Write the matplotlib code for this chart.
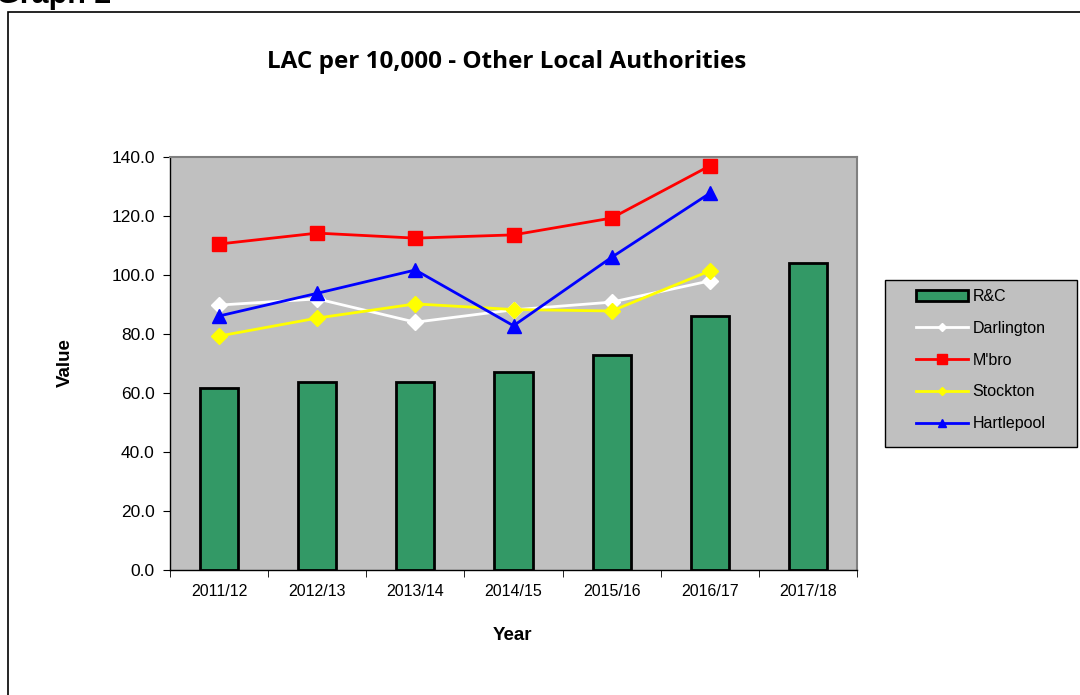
import numpy as np
import matplotlib.pyplot as plt
from matplotlib.patches import Patch, Rectangle
from matplotlib.lines import Line2D

plt.rcParams['font.family'] = ['Liberation Sans', 'DejaVu Sans']

years = ['2011/12', '2012/13', '2013/14', '2014/15', '2015/16', '2016/17', '2017/18']
rc = [61.7, 63.7, 63.7, 67.1, 72.9, 86.1, 104.1]
darlington = [89.8, 91.9, 84.0, 88.2, 90.8, 98.0]
mbro = [110.5, 114.2, 112.5, 113.6, 119.3, 137.0]
stockton = [79.3, 85.4, 90.2, 88.3, 87.8, 101.4]
hartlepool = [86.1, 93.8, 101.7, 82.8, 106.0, 127.7]

W, H = 1080, 695
fig = plt.figure(figsize=(W / 100, H / 100), dpi=100)

# outer frame and cut-off heading
fig.patches.append(Rectangle((8 / W, -0.05), 1.2, 1 - 12 / H + 0.05,
                             transform=fig.transFigure, fill=False,
                             edgecolor='black', linewidth=1.2, zorder=0))
fig.text(-0.004, 1 - 3 / H, 'Graph 2', fontsize=22, fontweight='bold',
         va='baseline', ha='left')

ax = fig.add_axes([170 / W, 125 / H, 687 / W, 413 / H])
ax.set_facecolor('#c0c0c0')

x = np.arange(len(years))
ax.bar(x, rc, width=0.39, color='#339966', edgecolor='black', linewidth=2, zorder=2)

xl = x[:len(mbro)]
ax.plot(xl, darlington, color='white', lw=2, marker='D', ms=8, zorder=3)
ax.plot(xl, stockton, color='#ffff00', lw=2, marker='D', ms=8, zorder=3)
ax.plot(xl, hartlepool, color='#0000ff', lw=2, marker='^', ms=10, zorder=4)
ax.plot(xl, mbro, color='#ff0000', lw=2, marker='s', ms=10, zorder=4)

ax.set_xlim(-0.5, 6.5)
ax.set_ylim(0, 140)
yt = np.arange(0, 141, 20)
ax.set_yticks(yt)
ax.set_yticklabels([f'{v:.1f}' for v in yt], fontsize=12.5)
ax.set_xticks(x)
ax.set_xticklabels(years, fontsize=11.5)
ax.set_xticks(np.arange(-0.5, 7, 1), minor=True)
ax.tick_params(axis='x', which='major', length=0, pad=10)
ax.tick_params(axis='x', which='minor', length=5, direction='out')
ax.tick_params(axis='y', length=5, direction='out', pad=6)
for s in ['top', 'right']:
    ax.spines[s].set_color('#808080')
    ax.spines[s].set_linewidth(1.5)
for s in ['left', 'bottom']:
    ax.spines[s].set_color('black')
    ax.spines[s].set_linewidth(1)

fig.text(512 / W, 1 - 635 / H, 'Year', fontsize=13.5, fontweight='bold',
         ha='center', va='center')
fig.text(65 / W, 1 - 363 / H, 'Value', fontsize=13.5, fontweight='bold',
         ha='center', va='center', rotation=90)
fig.text(507 / W, 1 - 62 / H, 'LAC per 10,000 - Other Local Authorities',
         fontsize=17.5, fontweight='bold', ha='center', va='center',
         family=['Open Sans', 'DejaVu Sans'])

# legend box
fig.patches.append(Rectangle((885 / W, 1 - 447 / H), 192 / W, 167 / H,
                             transform=fig.transFigure, facecolor='#c0c0c0',
                             edgecolor='black', linewidth=1, zorder=1))
handles = [
    Patch(facecolor='#339966', edgecolor='black', linewidth=2),
    Line2D([], [], color='white', lw=2, marker='D', ms=4),
    Line2D([], [], color='#ff0000', lw=2, marker='s', ms=7),
    Line2D([], [], color='#ffff00', lw=2, marker='D', ms=4),
    Line2D([], [], color='#0000ff', lw=2, marker='^', ms=6),
]
labels = ['R&C', 'Darlington', "M'bro", 'Stockton', 'Hartlepool']
leg = fig.legend(handles, labels, loc='upper left',
                 bbox_to_anchor=(916 / W, 1 - 289 / H),
                 fontsize=11.5, frameon=False,
                 handlelength=3.25, handleheight=0.65, handletextpad=0.3,
                 labelspacing=1.05, borderpad=0, borderaxespad=0)
leg.set_zorder(2)

fig.savefig('out.png', dpi=100)
